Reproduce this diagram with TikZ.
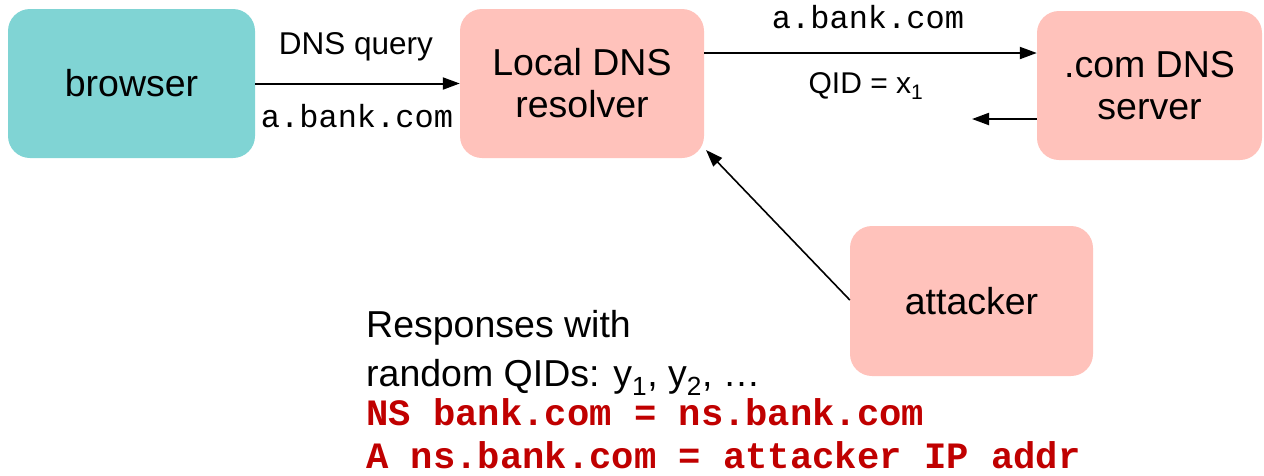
\documentclass[tikz,border=0pt]{standalone}
\usepackage{fontspec}
\setmainfont{Liberation Sans}
\newfontfamily\monofont{Liberation Mono}
\usetikzlibrary{arrows.meta}
\definecolor{tealbox}{HTML}{80D4D4}
\definecolor{pinkbox}{HTML}{FFC2BB}
\definecolor{redtxt}{HTML}{C00000}
\tikzset{
  box/.style={rounded corners=22pt, inner sep=0pt, align=center, font=\fontsize{37.5}{42}\selectfont},
  conn/.style={line width=2pt, -{Triangle[length=17pt,width=12pt]}},
  lbl/.style={inner sep=0pt, font=\fontsize{31.5}{36}\selectfont},
  mono/.style={inner sep=0pt, font=\monofont\fontsize{32}{36}\selectfont},
  redmono/.style={inner sep=0pt, text=redtxt, font=\monofont\bfseries\fontsize{37.2}{44}\selectfont},
  body/.style={inner sep=0pt, font=\fontsize{37.5}{42}\selectfont},
}
\begin{document}
\begin{tikzpicture}[x=1pt,y=-1pt]
\useasboundingbox (0,0) rectangle (1264,475);
\node[box, fill=tealbox, minimum width=247pt, minimum height=149pt] (browser) at (131.5,83.5) {browser};
\node[box, fill=pinkbox, minimum width=244pt, minimum height=149pt] (resolver) at (582,83.5) {Local DNS\\resolver};
\node[box, fill=pinkbox, minimum width=225pt, minimum height=149pt] (com) at (1149.5,85.5) {.com DNS\\server};
\node[box, fill=pinkbox, minimum width=243pt, minimum height=150pt] (attacker) at (971.5,301) {attacker};

\draw[conn] (browser.east) -- (resolver.west);
\draw[conn] ([yshift=30.5pt]resolver.east) -- ([yshift=32.5pt]com.west);
\coordinate (ret) at (972,119);
\draw[conn] ([yshift=-33.5pt]com.west) -- (ret);
\coordinate (atip) at (706,150);
\draw[line width=1.6pt, -{Triangle[length=17pt,width=12pt]}] ([yshift=1pt]attacker.west) -- (atip);

\node[lbl] (dnsq) at (356,47) {DNS query};
\node[mono] (q1) at (357,116) {a.bank.com};
\node[mono] (q2) at (868,17) {a.bank.com};
\node[lbl, font=\fontsize{30}{34}\selectfont] (qid) at (866,86) {QID = x\textsubscript{1}};

\node[body, anchor=base west] (r1) at (366,337) {Responses with};
\node[body, anchor=base west, text depth=4pt] (r2) at (366,386) {random QIDs: y\textsubscript{1}, y\textsubscript{2}, …};
\node[redmono, anchor=base west, text height=22pt] (r3) at (366,425) {NS bank.com = ns.bank.com};
\node[redmono, anchor=base west, text height=22pt] (r4) at (366,468) {A ns.bank.com = attacker IP addr};
\end{tikzpicture}
\end{document}
